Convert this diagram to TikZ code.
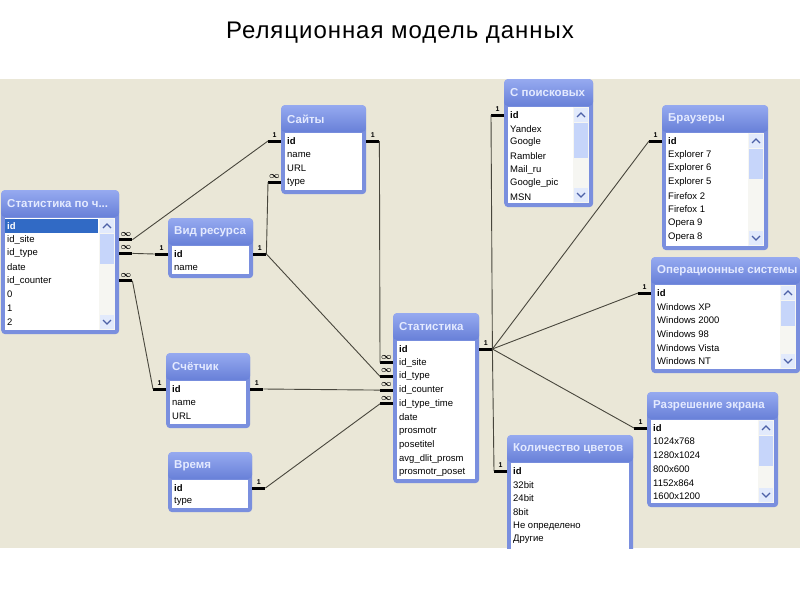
\documentclass[tikz,border=0pt]{standalone}
\usepackage{fontspec}
\setmainfont{Liberation Sans}
\usetikzlibrary{calc}
\definecolor{panel}{RGB}{234,231,215}
\definecolor{frameblue}{RGB}{122,143,222}
\definecolor{hdrtop}{RGB}{150,170,240}
\definecolor{hdrbot}{RGB}{104,128,216}
\definecolor{hdrtext}{RGB}{228,234,255}
\definecolor{linecol}{RGB}{72,70,60}
\definecolor{selblue}{RGB}{49,106,197}
\definecolor{thumbcol}{RGB}{198,213,250}
\definecolor{trackcol}{RGB}{246,246,242}
\definecolor{btncol}{RGB}{226,234,252}
\definecolor{chevcol}{RGB}{77,97,167}
\tikzset{
  tblframe/.style={fill=frameblue, rounded corners=4pt, inner sep=0pt, draw=none},
  rowtext/.style={font=\fontsize{9.5}{10}\selectfont, anchor=west, inner sep=0pt},
  hdrtitle/.style={font=\bfseries\fontsize{11.5}{12}\selectfont, text=hdrtext, anchor=west, inner sep=0pt},
  stub/.style={line width=3pt, black},
  rel/.style={line width=0.9pt, linecol},
  card/.style={font=\bfseries\fontsize{7}{8}\selectfont, inner sep=0.5pt, above=1.5pt},
  chev/.style={chevcol, line width=1.2pt}
}
\newcommand\manyc{{\fontsize{9}{9}\selectfont\boldmath$\infty$}}
% #1 name, #2 x1, #3 y1, #4 x2, #5 y2, #6 title, #7 rows, #8 thumb length (0 none), #9 highlight first row
\newcommand\dbtable[9]{%
  \node[tblframe, anchor=north west, minimum width={#4-#2}, minimum height={#5-#3}] (#1) at (#2,#3) {};
  \shade[top color=hdrtop, bottom color=hdrbot, rounded corners=4pt] (#2,#3) rectangle (#4,#3+27);
  \fill[white] (#2+4,#3+28) rectangle (#4-4,#5-4);
  \ifnum#8>0
    \fill[trackcol] (#4-20,#3+28) rectangle (#4-4,#5-4);
    \fill[btncol] (#4-19,#3+29) rectangle (#4-5,#3+43);
    \draw[chev] (#4-16,#3+38) -- (#4-12,#3+34) -- (#4-8,#3+38);
    \fill[thumbcol] (#4-19,#3+44) rectangle (#4-5,#3+44+#8);
    \fill[btncol] (#4-19,#5-19) rectangle (#4-5,#5-5);
    \draw[chev] (#4-16,#5-14) -- (#4-12,#5-10) -- (#4-8,#5-14);
  \fi
  \ifnum#9>0
    \fill[selblue] (#2+4,#3+29) rectangle (#4-21,#3+43);
  \fi
  \node[hdrtitle] (#1-title) at (#2+6,#3+14) {#6};
  \foreach \t [count=\i] in {#7} {\node[rowtext] (#1-\i) at (#2+6,{#3+36+13.7*(\i-1)}) {\t};}
}
\newcommand\stubR[4]{\draw[stub] (#1.east |- #1-#2) -- ++(13,0) coordinate (#3) node[card, midway] {#4};}
\newcommand\stubL[4]{\draw[stub] (#1.west |- #1-#2) -- ++(-13,0) coordinate (#3) node[card, midway] {#4};}
\begin{document}
\begin{tikzpicture}[x=1pt,y=-1pt]
\useasboundingbox (0,0) rectangle (800,600);
\fill[white] (0,0) rectangle (800,600);
\node[font=\fontsize{24}{28}\selectfont\addfontfeatures{LetterSpace=4}] (title) at (400,33) {Реляционная модель данных};
\begin{scope}
\clip (0,79) rectangle (800,548);
\fill[panel] (0,79) rectangle (800,548);
\dbtable{spc}{1}{190}{119}{334}{Статистика по ч...}{\textcolor{white}{\textbf{id}},id\_site,id\_type,date,id\_counter,0,1,2}{30}{1}
\dbtable{sayty}{281}{105}{366}{194}{Сайты}{\textbf{id},name,URL,type}{0}{0}
\dbtable{vid}{168}{218}{253}{278}{Вид ресурса}{\textbf{id},name}{0}{0}
\dbtable{sch}{166}{353}{250}{428}{Счётчик}{\textbf{id},name,URL}{0}{0}
\dbtable{vrem}{168}{452}{252}{512}{Время}{\textbf{id},type}{0}{0}
\dbtable{stat}{393}{313}{479}{483}{Статистика}{\textbf{id},id\_site,id\_type,id\_counter,id\_type\_time,date,prosmotr,posetitel,avg\_dlit\_prosm,prosmotr\_poset}{0}{0}
\dbtable{pois}{504}{79}{593}{207}{С поисковых}{\textbf{id},Yandex,Google,Rambler,Mail\_ru,Google\_pic,MSN}{35}{0}
\dbtable{brow}{662}{105}{768}{250}{Браузеры}{\textbf{id},Explorer 7,Explorer 6,Explorer 5,Firefox 2,Firefox 1,Opera 9,Opera 8}{30}{0}
\dbtable{os}{651}{257}{800}{373}{Операционные системы}{\textbf{id},Windows XP,Windows 2000,Windows 98,Windows Vista,Windows NT}{25}{0}
\dbtable{res}{647}{392}{778}{507}{Разрешение экрана}{\textbf{id},1024x768,1280x1024,800x600,1152x864,1600x1200}{30}{0}
\dbtable{kol}{507}{435}{633}{570}{Количество цветов}{\textbf{id},32bit,24bit,8bit,Не определено,Другие}{0}{0}
% relationship stubs
\stubR{spc}{2}{a1}{\manyc}
\stubR{spc}{3}{a2}{\manyc}
\stubR{spc}{5}{a3}{\manyc}
\stubL{sayty}{1}{b1}{1}
\stubL{sayty}{4}{b4}{\manyc}
\stubR{sayty}{1}{b5}{1}
\stubL{vid}{1}{c1}{1}
\stubR{vid}{1}{c2}{1}
\stubL{sch}{1}{d1}{1}
\stubR{sch}{1}{d2}{1}
\stubR{vrem}{1}{e2}{1}
\stubL{stat}{2}{f2}{\manyc}
\stubL{stat}{3}{f3}{\manyc}
\stubL{stat}{4}{f4}{\manyc}
\stubL{stat}{5}{f5}{\manyc}
\stubR{stat}{1}{f1}{1}
\stubL{pois}{1}{g1}{1}
\stubL{brow}{1}{h1}{1}
\stubL{os}{1}{i1}{1}
\stubL{res}{1}{j1}{1}
\stubL{kol}{1}{k1}{1}
% relationship lines
\draw[rel] (a1) -- (b1);
\draw[rel] (a2) -- (c1);
\draw[rel] (a3) -- (d1);
\draw[rel] (c2) -- (b4);
\draw[rel] (b5) -- (f2);
\draw[rel] (c2) -- (f3);
\draw[rel] (d2) -- (f4);
\draw[rel] (e2) -- (f5);
\draw[rel] (f1) -- (g1);
\draw[rel] (f1) -- (h1);
\draw[rel] (f1) -- (i1);
\draw[rel] (f1) -- (j1);
\draw[rel] (f1) -- (k1);
\end{scope}
\end{tikzpicture}
\end{document}
